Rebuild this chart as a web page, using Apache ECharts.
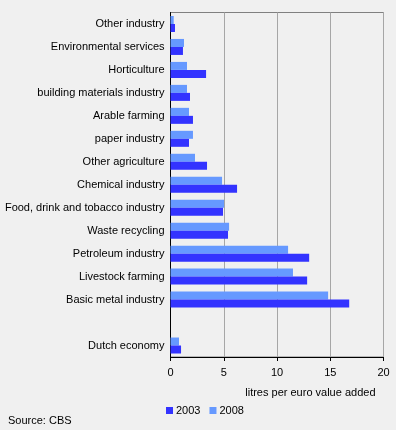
<!DOCTYPE html>
<html>
<head>
<meta charset="utf-8">
<script src="https://cdn.jsdelivr.net/npm/echarts@6/dist/echarts.min.js"></script>
<style>
  html, body { margin: 0; padding: 0; background: #f0f0f0; }
  #chart { width: 396px; height: 430px; }
</style>
</head>
<body>
<div id="chart"></div>
<script>
const categories = [
  'Other industry',
  'Environmental services',
  'Horticulture',
  'building materials industry',
  'Arable farming',
  'paper industry',
  'Other agriculture',
  'Chemical industry',
  'Food, drink and tobacco industry',
  'Waste recycling',
  'Petroleum industry',
  'Livestock farming',
  'Basic metal industry',
  '',
  'Dutch economy',
];
const values2003 = [0.42, 1.17, 3.34, 1.83, 2.11, 1.74, 3.43, 6.25, 4.93, 5.4, 13.02, 12.83, 16.78, null, 0.99];
const values2008 = [0.3, 1.27, 1.55, 1.55, 1.74, 2.11, 2.3, 4.84, 5.03, 5.5, 11.04, 11.5, 14.8, null, 0.8];
const xTicks = [0, 5, 10, 15, 20];

const font = 'Liberation Sans';
const myChart = echarts.init(document.getElementById('chart'));

const option = {
  backgroundColor: '#f0f0f0',
  animation: false,
  textStyle: { fontFamily: font, fontSize: 11, color: '#000' },
  grid: {
    left: 170.5,
    right: 12.5,
    top: 12.5,
    bottom: 73,
    show: true,
    borderColor: '#808080',
    borderWidth: 1,
  },
  legend: {
    data: ['2003', '2008'],
    left: 161,
    top: 400,
    itemWidth: 7,
    itemHeight: 7,
    itemGap: 9,
    icon: 'rect',
    textStyle: { fontFamily: font, fontSize: 11, color: '#000', padding: [0, 0, 0, -2] },
  },
  title: {
    text: 'Source: CBS',
    left: 3,
    top: 410,
    textStyle: { fontFamily: font, fontSize: 11, fontWeight: 'normal', color: '#000' },
  },
  xAxis: {
    type: 'value',
    min: xTicks[0],
    max: xTicks[xTicks.length - 1],
    interval: 5,
    name: 'litres per euro value added',
    nameLocation: 'end',
    nameGap: 0,
    nameTextStyle: {
      fontFamily: font,
      fontSize: 11,
      color: '#000',
      align: 'right',
      verticalAlign: 'top',
      padding: [30, 8, 0, 0],
    },
    axisLine: { show: true, lineStyle: { color: '#000', width: 1 } },
    axisTick: { show: true, length: 4, lineStyle: { color: '#000' } },
    axisLabel: { color: '#000', fontSize: 11, fontFamily: font, margin: 10 },
    splitLine: { show: true, lineStyle: { color: '#a6a6a6', width: 1 } },
  },
  yAxis: {
    type: 'category',
    data: categories,
    inverse: true,
    axisLine: { show: true, lineStyle: { color: '#000', width: 1 } },
    axisTick: { show: false },
    axisLabel: { color: '#000', fontSize: 11, fontFamily: font, margin: 6 },
    splitLine: { show: false },
  },
  series: [
    {
      name: '2008',
      type: 'bar',
      data: values2008,
      itemStyle: { color: '#6699ff' },
      barWidth: 8,
      barGap: '0%',
      barCategoryGap: '30%',
    },
    {
      name: '2003',
      type: 'bar',
      data: values2003,
      itemStyle: { color: '#3333ff' },
      barWidth: 8,
      barGap: '0%',
      barCategoryGap: '30%',
    },
  ],
};

myChart.setOption(option);
</script>
</body>
</html>
